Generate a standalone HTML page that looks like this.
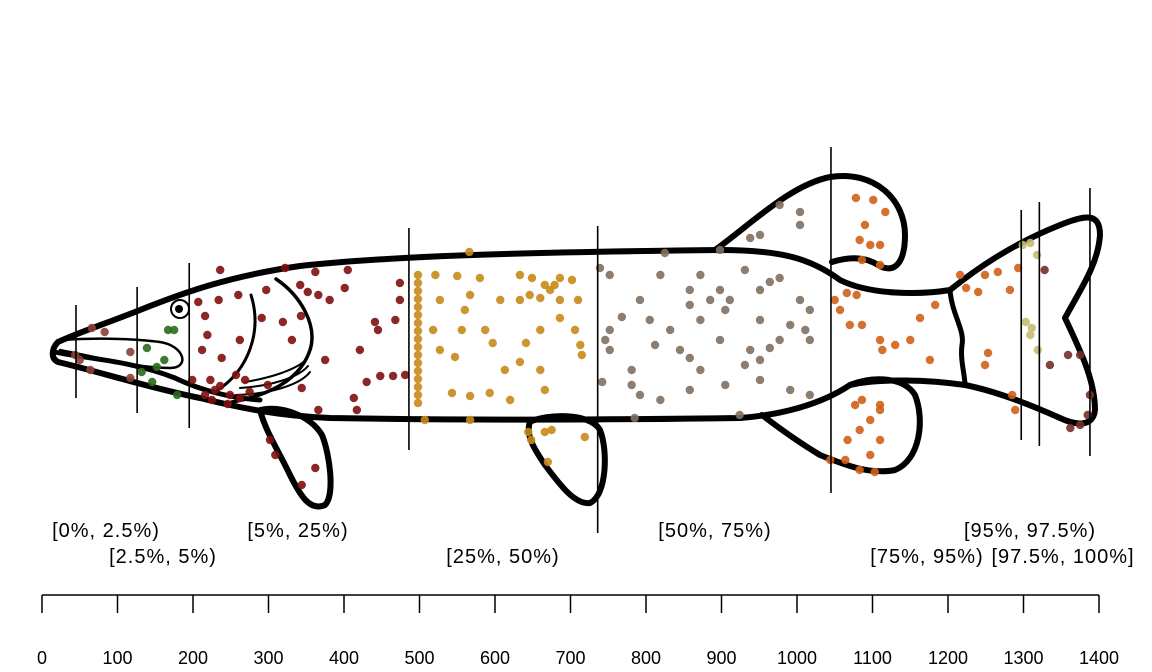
<!DOCTYPE html>
<html><head><meta charset="utf-8"><style>
html,body{margin:0;padding:0;background:#fff;}
svg{display:block;font-family:"Liberation Sans",Arial,sans-serif;}
</style></head><body>
<svg id="chart" width="1152" height="672" viewBox="0 0 1152 672">
<g id="fish" fill="none" stroke="#000" stroke-linejoin="round" stroke-linecap="round">
<path stroke-width="6" d="M 58,342 C 80,332 110,322 140,310 C 185,292 230,276 300,266 C 400,255 550,252 720,250 C 780,250 810,258 840,280 C 870,295 920,295 950,290 C 975,270 1010,245 1060,225 C 1085,215 1100,212 1100,235 C 1098,265 1080,290 1065,318 C 1080,350 1095,380 1095,410 C 1093,428 1075,425 1060,418 C 1020,400 990,390 965,385 C 930,380 880,378 850,385 C 820,405 780,415 740,418 C 600,420 450,420 330,418 C 280,416 240,408 200,398 C 150,388 100,372 58,362 C 50,358 52,348 58,342 Z"/>
<path stroke-width="5" d="M 950,290 C 952,315 965,330 962,345 C 960,360 965,375 965,385"/>
<path stroke-width="6" d="M 715,250 C 750,225 790,185 830,177 C 875,170 905,200 905,235 C 905,262 895,275 878,265 C 862,255 845,258 832,262"/>
<path stroke-width="6" d="M 850,385 C 875,375 905,378 915,395 C 925,420 920,460 895,470 C 870,475 845,465 820,455 C 795,440 775,425 762,415"/>
<path stroke-width="6" d="M 530,422 C 545,414 590,412 600,430 C 608,450 607,495 590,503 C 575,505 560,485 545,465 C 535,450 525,435 530,422 Z"/>
<path stroke-width="6" d="M 260,410 C 280,405 310,415 322,435 C 330,455 335,495 325,505 C 310,512 300,495 290,475 C 278,450 265,430 260,410 Z"/>
<path stroke-width="2.5" d="M 60,340 C 90,338 130,338 160,342 C 185,346 190,368 170,368 C 140,368 110,360 60,350"/>
<path stroke-width="5" d="M 55,352 C 80,358 130,360 175,378 C 200,390 230,398 260,400"/>
<path stroke-width="3" d="M 251,295 C 262,330 250,370 215,392"/>
<path stroke-width="3.5" d="M 276,279 C 300,295 318,325 310,350 C 300,380 270,395 232,402"/>
<path stroke-width="2" d="M 245,382 C 270,378 295,370 306,360 M 240,388 C 270,386 298,378 308,366 M 236,395 C 270,394 300,385 310,372"/>
<circle cx="180" cy="309" r="9" fill="#fff" stroke-width="2"/>
<circle cx="179" cy="309" r="4" fill="#000" stroke="none"/>
</g>
<g id="points"></g>
<g id="qlines"></g>
<g id="qlabels"></g>
<g id="axis"></g>
</svg>
<script>
const groupNames = ["[0%, 2.5%)","[2.5%, 5%)","[5%, 25%)","[25%, 50%)","[50%, 75%)","[75%, 95%)","[95%, 97.5%)","[97.5%, 100%]"];
const groupColors = ["#8a4038","#2a6a1c","#801010","#c88a18","#807060","#d06018","#c4bc70","#743028"];
const groupLabelX = [106,163,298,503,715,927,1030,1063];
const groupLabelRow = [0,1,0,1,0,1,0,1];
const quantileValues = [45,126,195,486,736,1045,1297,1321,1388];
const quantileTop = [367,385,409,444,446,525,462,470,484];
const quantileBottom = [274,259,244,222,139,179,232,226,216];
const axisTicks = [0,100,200,300,400,500,600,700,800,900,1000,1100,1200,1300,1400];
const g0x=[66,83,44,64,50,117,117];
const g0y=[344,340,317,302,312,320,294];
const g1x=[167,175,139,152,132,146,179,162];
const g1y=[342,342,324,305,300,290,277,312];
const g2x=[207,216,219,236,234,260,297,322,342,362,366,401,381,405,441,445,474,474,468,343,331,319,291,262,212,238,223,269,229,216,225,249,262,236,275,299,344,366,417,430,448,465,481,413,375,421,302,309,362,344,352,257,199,246];
const g2y=[370,356,337,402,372,377,382,404,387,400,377,384,372,402,350,342,389,372,352,356,332,350,354,332,322,314,292,292,282,277,272,277,274,286,280,287,284,262,262,290,296,296,297,274,312,322,232,217,204,187,380,297,292,268];
const g3x=[498,498,498,498,498,498,498,498,498,498,498,498,498,498,498,498,498,566,521,550,580,633,649,666,686,702,646,673,527,560,567,607,633,660,686,710,556,587,597,641,660,706,715,713,518,527,543,567,593,660,666,620,507,567,644,666,719,675,670,648,613,686,547,633,679];
const g3y=[397,389,381,373,365,357,349,341,333,325,317,309,301,293,285,277,269,420,397,396,394,397,394,387,394,392,377,382,372,362,377,372,372,374,372,372,342,342,329,329,342,342,317,327,342,322,279,276,279,302,282,272,252,252,240,240,235,242,210,232,302,354,315,310,387];
const g4x=[825,752,819,872,931,964,977,951,1004,1017,858,898,911,858,885,792,768,752,746,805,832,872,905,951,991,1011,812,845,858,898,938,951,964,977,931,781,781,742,792,819,858,905,951,991,1017,924,785,977,1004,951,938,1004,898,1017,872,739,752];
const g4y=[419,397,397,397,402,390,394,382,372,362,382,382,372,367,372,372,355,342,332,352,342,352,362,352,347,342,327,322,314,332,322,312,324,332,307,302,287,290,277,272,282,287,292,282,277,257,254,467,460,437,434,447,422,332,302,404,322];
const g5x=[1078,1101,1117,1090,1083,1097,1110,1086,1110,1079,1057,1086,1070,1110,1130,1150,1176,1113,1163,1077,1086,1110,1097,1083,1067,1110,1097,1064,1083,1103,1110,1224,1240,1249,1266,1293,1282,1253,1249,1285,1289,1216,1183,1044,1050,1066];
const g5y=[474,472,460,447,432,427,427,412,407,377,362,347,347,332,327,332,312,322,354,267,272,267,252,242,232,232,217,212,202,200,262,384,380,397,400,404,382,319,307,277,262,397,367,212,372,379];
const g6x=[1299,1309,1318,1303,1311,1309,1319];
const g6y=[427,429,417,350,344,337,322];
const g7x=[1375,1359,1335,1385,1375,1362,1328,1388];
const g7y=[317,317,307,257,247,244,402,277];
const groupsX=[g0x,g1x,g2x,g3x,g4x,g5x,g6x,g7x];
const groupsY=[g0y,g1y,g2y,g3y,g4y,g5y,g6y,g7y];

const NS="http://www.w3.org/2000/svg";
function xS(v){return 42+v*(1057/1400);}
function yS(v){return 672-v;}
function mk(tag,attrs,parent){const e=document.createElementNS(NS,tag);for(const k in attrs)e.setAttribute(k,attrs[k]);parent.appendChild(e);return e;}

const pts=document.getElementById('points');
groupsX.forEach((xs,gi)=>{
  xs.forEach((v,i)=>{
    const c=mk('circle',{cx:xS(v),cy:yS(groupsY[gi][i]),r:4.2,fill:groupColors[gi],'fill-opacity':0.9},pts);
    
    
  });
});

const ql=document.getElementById('qlines');
quantileValues.forEach((q,i)=>{
  const l=mk('line',{x1:xS(q),x2:xS(q),y1:yS(quantileTop[i]),y2:yS(quantileBottom[i]),stroke:'#000','stroke-width':1.6},ql);
  
  
});

const lab=document.getElementById('qlabels');
groupNames.forEach((n,i)=>{
  const t=mk('text',{x:groupLabelX[i],y:groupLabelRow[i]?563:537,'text-anchor':'middle','font-size':20,'letter-spacing':1,fill:'#000'},lab);
  t.textContent=n;
  
  
});

const ax=document.getElementById('axis');
const base=mk('line',{x1:xS(0),x2:xS(1400),y1:595,y2:595,stroke:'#000','stroke-width':1.5},ax);


axisTicks.forEach(t=>{
  const l=mk('line',{x1:xS(t),x2:xS(t),y1:595,y2:613,stroke:'#000','stroke-width':1.5},ax);
  
  
  const tx=mk('text',{x:xS(t),y:664,'text-anchor':'middle','font-size':18,fill:'#000'},ax);
  tx.textContent=t;
  
  
});
</script>
</body></html>
